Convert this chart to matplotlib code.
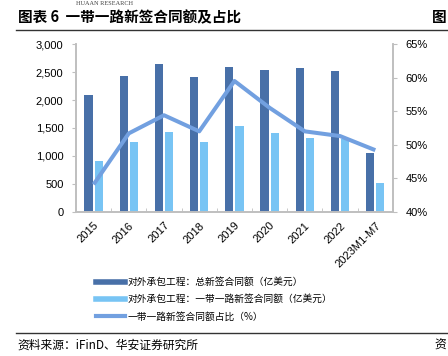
import matplotlib.pyplot as plt
from matplotlib.lines import Line2D
from matplotlib.ticker import FuncFormatter, FixedLocator
import numpy as np

plt.rcParams['font.family'] = ['Noto Sans CJK SC', 'DejaVu Sans']

# data
years = ['2015', '2016', '2017', '2018', '2019', '2020', '2021', '2022', '2023M1-M7']
total_new = [2090, 2430, 2645, 2410, 2595, 2540, 2575, 2520, 1060]
brt_new = [918, 1250, 1434, 1250, 1536, 1405, 1327, 1300, 512]
brt_share = [44.1, 51.7, 54.4, 52.0, 59.5, 55.5, 52.0, 51.3, 49.2]

c_dark = '#4870A8'
c_light = '#78C4F4'
c_line = '#72A0E0'
c_axis = '#BFBFBF'

fig = plt.figure(figsize=(4.48, 3.56), dpi=100)
ax = fig.add_axes([0.1696, 0.4045, 0.7074, 0.4719])
ax2 = ax.twinx()

x = np.arange(len(years))
w = 0.23
ax.bar(x - 0.145, total_new, width=w, color=c_dark, zorder=2)
ax.bar(x + 0.145, brt_new, width=w, color=c_light, zorder=2)
ax2.plot(x, brt_share, color=c_line, lw=2.9, solid_capstyle='butt', zorder=3)

ax.set_xlim(-0.5, len(years) - 0.5)
ax.set_ylim(0, 3000)
ax.set_yticks(range(0, 3001, 500))
ax.yaxis.set_major_formatter(FuncFormatter(lambda v, p: f'{int(v):,}'))
ax2.set_ylim(40, 65)
ax2.set_yticks(range(40, 66, 5))
ax2.yaxis.set_major_formatter(FuncFormatter(lambda v, p: f'{int(v)}%'))

ax.set_xticks(x)
ax.set_xticklabels(years, rotation=45, ha='right', rotation_mode='anchor', fontsize=8,
                   family=['Liberation Sans', 'DejaVu Sans'])
ax.tick_params(axis='x', which='major', length=0, pad=6)
ax.xaxis.set_minor_locator(FixedLocator(np.arange(-0.5, len(years), 1.0)))
ax.tick_params(axis='x', which='minor', direction='in', length=3, color=c_axis)
ax.tick_params(axis='y', length=3, color=c_axis, labelsize=8, pad=6)
ax2.tick_params(axis='y', length=3, color=c_axis, labelsize=8, pad=6)
for lab in ax.get_yticklabels() + ax2.get_yticklabels():
    lab.set_family(['Liberation Sans', 'DejaVu Sans'])

for a in (ax, ax2):
    a.spines['top'].set_visible(False)
    for s in ('left', 'right', 'bottom'):
        a.spines[s].set_color(c_axis)
        a.spines[s].set_linewidth(1.2)

handles = [Line2D([], [], color=c_dark, lw=4),
           Line2D([], [], color=c_light, lw=4),
           Line2D([], [], color=c_line, lw=3)]
labels = ['对外承包工程：总新签合同额（亿美元）',
          '对外承包工程：一带一路新签合同额（亿美元）',
          '一带一路新签合同额占比（%）']
fig.legend(handles, labels, loc='upper left', bbox_to_anchor=(0.215, 0.222),
           frameon=False, fontsize=7, handlelength=3.0, handletextpad=0.2,
           labelspacing=0.75, borderpad=0, borderaxespad=0)

# header and footer
fig.text(0.04, 0.952, '图表 6  一带一路新签合同额及占比', fontsize=10.5, weight='bold',
         ha='left', va='center')
fig.text(0.17, 0.997, 'HUAAN RESEARCH', fontsize=4.5, family='Liberation Serif',
         color='#404040', ha='left', va='top')
fig.text(0.997, 0.952, '图', fontsize=10.5, weight='bold', ha='right', va='center')
fig.add_artist(Line2D([0.035, 1.0], [0.916, 0.916], color='#333333', lw=1.0))
fig.add_artist(Line2D([0.035, 1.0], [0.065, 0.065], color='#333333', lw=1.0))
fig.text(0.04, 0.031, '资料来源：iFinD、华安证券研究所', fontsize=8.5, ha='left', va='center')
fig.text(0.997, 0.031, '资', fontsize=8.5, ha='right', va='center')

fig.savefig('out.png', dpi=100)
